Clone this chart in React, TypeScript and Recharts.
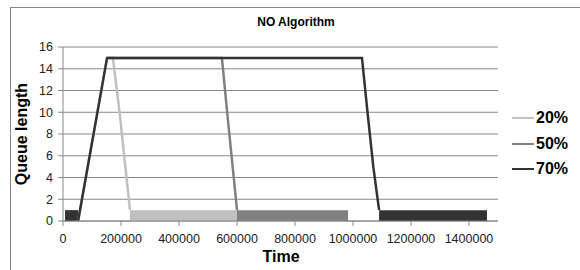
import React from 'react';
import { ComposedChart, Line, Area, XAxis, YAxis, CartesianGrid } from 'recharts';

// Time values (x) and queue lengths (y) for each series
const s20Line = [
  { t: 52000, q: 0 },
  { t: 152000, q: 15 },
  { t: 172000, q: 15 },
  { t: 195000, q: 10 },
  { t: 215000, q: 5 },
  { t: 231000, q: 1 },
];
const s20Band = [
  { t: 231000, q: 1 },
  { t: 605000, q: 1 },
];
const s50Line = [
  { t: 152000, q: 15 },
  { t: 548000, q: 15 },
  { t: 566000, q: 10 },
  { t: 585000, q: 5 },
  { t: 600000, q: 1 },
];
const s50Band = [
  { t: 600000, q: 1 },
  { t: 983000, q: 1 },
];
const s70BandStart = [
  { t: 7000, q: 1 },
  { t: 52000, q: 1 },
];
const s70Line = [
  { t: 52000, q: 0 },
  { t: 152000, q: 15 },
  { t: 1031000, q: 15 },
  { t: 1050000, q: 10 },
  { t: 1070000, q: 5 },
  { t: 1090000, q: 1 },
];
const s70Band = [
  { t: 1090000, q: 1 },
  { t: 1462000, q: 1 },
];

const xTicks = [0, 200000, 400000, 600000, 800000, 1000000, 1200000, 1400000];
const yTicks = [0, 2, 4, 6, 8, 10, 12, 14, 16];
const legendItems = [
  { name: '20%', color: '#c0c0c0' },
  { name: '50%', color: '#808080' },
  { name: '70%', color: '#333333' },
];

const FONT = '"Liberation Sans", Arial, sans-serif';

export default function App() {
  return (
    <div style={{ position: 'absolute', left: 0, top: 0, width: 580, height: 270, background: '#fff', fontFamily: FONT, overflow: 'hidden' }}>
      <div style={{ position: 'absolute', left: 10, top: 7, width: 600, height: 300, border: '1px solid #888' }} />
      <ComposedChart width={580} height={270} margin={{ top: 47, right: 82, bottom: 19, left: 0 }}>
        <CartesianGrid horizontal vertical={false} stroke="#888" strokeWidth={1} />
        <XAxis
          dataKey="t"
          type="number"
          domain={[0, 1500000]}
          ticks={xTicks}
          allowDataOverflow
          stroke="#888"
          tickSize={5}
          tickMargin={8}
          height={30}
          tick={{ fill: '#222', fontSize: 12.5, fontFamily: FONT }}
          interval={0}
        />
        <YAxis
          type="number"
          domain={[0, 16]}
          ticks={yTicks}
          width={63}
          stroke="#888"
          tickSize={5}
          tickMargin={5}
          tick={{ fill: '#222', fontSize: 12.5, fontFamily: FONT }}
          interval={0}
        />
        <Area data={s20Band} dataKey="q" type="linear" stroke="none" fill="#c0c0c0" fillOpacity={1} isAnimationActive={false} />
        <Line data={s20Line} dataKey="q" type="linear" stroke="#c0c0c0" strokeWidth={2.5} dot={false} isAnimationActive={false} />
        <Area data={s50Band} dataKey="q" type="linear" stroke="none" fill="#808080" fillOpacity={1} isAnimationActive={false} />
        <Line data={s50Line} dataKey="q" type="linear" stroke="#808080" strokeWidth={2.5} dot={false} isAnimationActive={false} />
        <Area data={s70BandStart} dataKey="q" type="linear" stroke="none" fill="#333" fillOpacity={1} isAnimationActive={false} />
        <Area data={s70Band} dataKey="q" type="linear" stroke="none" fill="#333" fillOpacity={1} isAnimationActive={false} />
        <Line data={s70Line} dataKey="q" type="linear" stroke="#333" strokeWidth={2.5} dot={false} isAnimationActive={false} />
      </ComposedChart>
      <div style={{ position: 'absolute', left: 196, top: 15, width: 200, textAlign: 'center', fontSize: 12, fontWeight: 'bold', color: '#000' }}>NO Algorithm</div>
      <div style={{ position: 'absolute', left: 181, top: 248, width: 200, textAlign: 'center', fontSize: 16, fontWeight: 'bold', color: '#000' }}>Time</div>
      <div style={{ position: 'absolute', left: 22, top: 134, width: 0, height: 0 }}>
        <div style={{ position: 'absolute', left: -100, top: -10, width: 200, textAlign: 'center', fontSize: 16, fontWeight: 'bold', lineHeight: '20px', transform: 'rotate(-90deg)', color: '#000' }}>Queue length</div>
      </div>
      {legendItems.map((it, i) => (
        <div key={it.name} style={{ position: 'absolute', left: 512, top: 108 + i * 25.5, height: 20, display: 'flex', alignItems: 'center' }}>
          <div style={{ width: 22, height: 2, background: it.color, marginRight: 2 }} />
          <span style={{ fontSize: 16, fontWeight: 'bold', color: '#000' }}>{it.name}</span>
        </div>
      ))}
    </div>
  );
}
